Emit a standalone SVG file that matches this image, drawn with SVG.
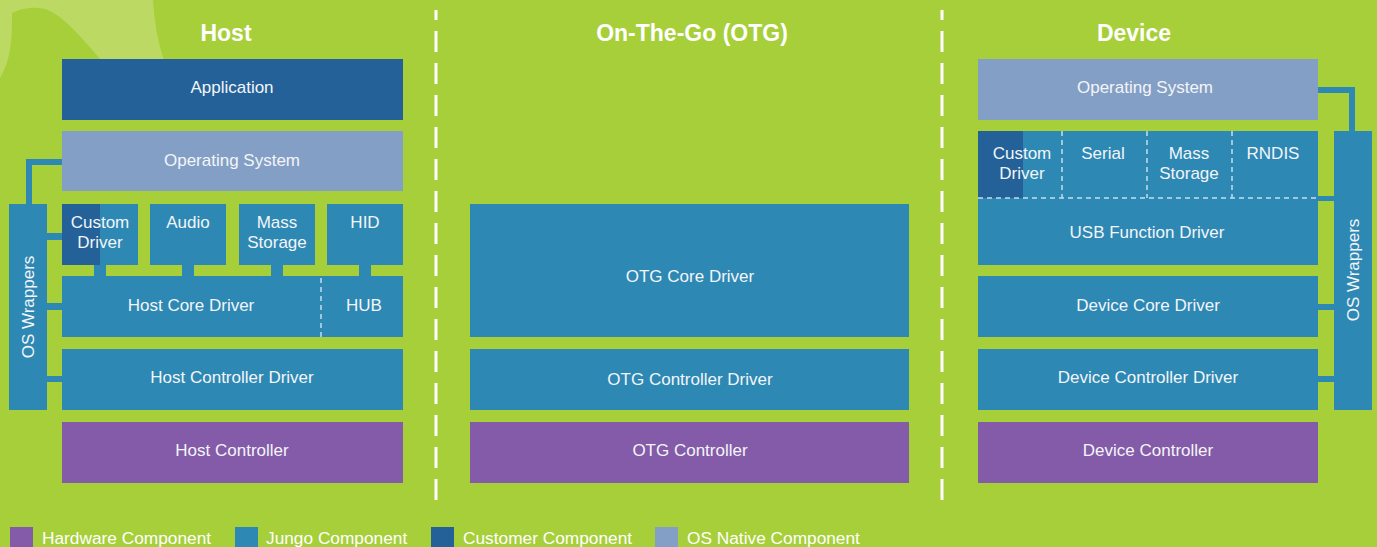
<svg xmlns="http://www.w3.org/2000/svg" width="1377" height="547" viewBox="0 0 1377 547">
<style>
.bg{fill:#a7cf3a}
.deco{fill:#bcd964}
.jungo{fill:#2d88b4}
.cust{fill:#236198}
.os{fill:#849fc5}
.hw{fill:#845ba8}
.lbl{font-family:"Liberation Sans",Arial,sans-serif;font-size:17px;fill:#f3f5f8;text-anchor:middle}
.ttl{font-family:"Liberation Sans",Arial,sans-serif;font-size:23px;font-weight:bold;fill:#ffffff;text-anchor:middle}
.leg{font-family:"Liberation Sans",Arial,sans-serif;font-size:17.3px;fill:#ffffff}
.div{stroke:#ffffff;stroke-width:3;stroke-dasharray:21 11;stroke-dashoffset:11;fill:none}
.inner{stroke:#c4dcee;stroke-width:1.5;stroke-dasharray:5 4;fill:none}
</style>
<rect class="bg" x="0" y="0" width="1377" height="547"/>
<path class="deco" d="M0,0 H153 Q155,35 164,60 L101,60 C82,38 62,14 45,9 C32,6 20,9 12,13 C12,35 12,58 0,78 Z"/>

<g id="dividers">
<line class="div" x1="436" y1="10" x2="436" y2="501"/>
<line class="div" x1="942" y1="10" x2="942" y2="501"/>
</g>

<g id="titles">
<text class="ttl" x="226" y="41">Host</text>
<text class="ttl" x="692" y="41">On-The-Go (OTG)</text>
<text class="ttl" x="1134" y="41">Device</text>
</g>

<g id="connectors">
<path class="jungo" d="M26,159 H62 V165 H32 V204 H26 Z"/>
<rect class="jungo" x="47" y="233" width="15" height="7"/>
<rect class="jungo" x="47" y="303" width="15" height="7"/>
<rect class="jungo" x="47" y="376" width="15" height="6"/>
<rect class="jungo" x="94" y="265" width="12" height="11"/>
<rect class="jungo" x="182" y="265" width="12" height="11"/>
<rect class="jungo" x="271" y="265" width="12" height="11"/>
<rect class="jungo" x="359" y="265" width="12" height="11"/>
<path class="jungo" d="M1318,87 H1355 V131 H1349 V93 H1318 Z"/>
<rect class="jungo" x="1318" y="196" width="16" height="5"/>
<rect class="jungo" x="1318" y="304" width="16" height="6"/>
<rect class="jungo" x="1318" y="376" width="16" height="6"/>
</g>

<g id="host-application"><rect class="cust" x="62" y="59" width="341" height="61"/><text class="lbl" x="232" y="93">Application</text></g>
<g id="host-os"><rect class="os" x="62" y="131" width="341" height="60"/><text class="lbl" x="232" y="166">Operating System</text></g>
<g id="host-os-wrappers"><rect class="jungo" x="9" y="204" width="38" height="206"/><text class="lbl" transform="translate(34,307) rotate(-90)">OS Wrappers</text></g>
<g id="host-custom-driver"><rect class="jungo" x="62" y="204" width="76" height="61"/><rect class="cust" x="62" y="204" width="38" height="61"/><text class="lbl" x="100" y="228">Custom</text><text class="lbl" x="100" y="248">Driver</text></g>
<g id="host-audio"><rect class="jungo" x="150" y="204" width="76" height="61"/><text class="lbl" x="188" y="228">Audio</text></g>
<g id="host-mass-storage"><rect class="jungo" x="239" y="204" width="76" height="61"/><text class="lbl" x="277" y="228">Mass</text><text class="lbl" x="277" y="248">Storage</text></g>
<g id="host-hid"><rect class="jungo" x="327" y="204" width="76" height="61"/><text class="lbl" x="365" y="228">HID</text></g>
<g id="host-core-driver"><rect class="jungo" x="62" y="276" width="341" height="61"/><line class="inner" x1="321" y1="278" x2="321" y2="337"/><text class="lbl" x="191" y="311">Host Core Driver</text><text class="lbl" x="364" y="311">HUB</text></g>
<g id="host-controller-driver"><rect class="jungo" x="62" y="349" width="341" height="61"/><text class="lbl" x="232" y="383">Host Controller Driver</text></g>
<g id="host-controller"><rect class="hw" x="62" y="422" width="341" height="61"/><text class="lbl" x="232" y="456">Host Controller</text></g>

<g id="otg-core-driver"><rect class="jungo" x="470" y="204" width="439" height="133"/><text class="lbl" x="690" y="282">OTG Core Driver</text></g>
<g id="otg-controller-driver"><rect class="jungo" x="470" y="349" width="439" height="61"/><text class="lbl" x="690" y="385">OTG Controller Driver</text></g>
<g id="otg-controller"><rect class="hw" x="470" y="422" width="439" height="61"/><text class="lbl" x="690" y="456">OTG Controller</text></g>

<g id="device-os"><rect class="os" x="978" y="59" width="340" height="61"/><text class="lbl" x="1145" y="93">Operating System</text></g>
<g id="device-os-wrappers"><rect class="jungo" x="1334" y="131" width="38" height="279"/><text class="lbl" transform="translate(1359,270) rotate(-90)">OS Wrappers</text></g>
<g id="device-function-drivers">
<rect class="jungo" x="978" y="131" width="340" height="134"/>
<rect class="cust" x="978" y="131" width="45" height="67"/>
<line class="inner" x1="978" y1="198" x2="1318" y2="198"/>
<line class="inner" x1="1062" y1="131" x2="1062" y2="198"/>
<line class="inner" x1="1147" y1="131" x2="1147" y2="198"/>
<line class="inner" x1="1232" y1="131" x2="1232" y2="198"/>
<text class="lbl" x="1022" y="159">Custom</text><text class="lbl" x="1022" y="179">Driver</text>
<text class="lbl" x="1103" y="159">Serial</text>
<text class="lbl" x="1189" y="159">Mass</text><text class="lbl" x="1189" y="179">Storage</text>
<text class="lbl" x="1273" y="159">RNDIS</text>
<text class="lbl" x="1147" y="238">USB Function Driver</text>
</g>
<g id="device-core-driver"><rect class="jungo" x="978" y="276" width="340" height="61"/><text class="lbl" x="1148" y="311">Device Core Driver</text></g>
<g id="device-controller-driver"><rect class="jungo" x="978" y="349" width="340" height="61"/><text class="lbl" x="1148" y="383">Device Controller Driver</text></g>
<g id="device-controller"><rect class="hw" x="978" y="422" width="340" height="61"/><text class="lbl" x="1148" y="456">Device Controller</text></g>

<g id="legend">
<rect class="hw" x="10" y="527" width="23" height="20"/><text class="leg" x="42" y="544">Hardware Component</text>
<rect class="jungo" x="235" y="527" width="23" height="20"/><text class="leg" x="266" y="544">Jungo Component</text>
<rect class="cust" x="431" y="527" width="23" height="20"/><text class="leg" x="463" y="544">Customer Component</text>
<rect class="os" x="655" y="527" width="23" height="20"/><text class="leg" x="687" y="544">OS Native Component</text>
</g>
</svg>
